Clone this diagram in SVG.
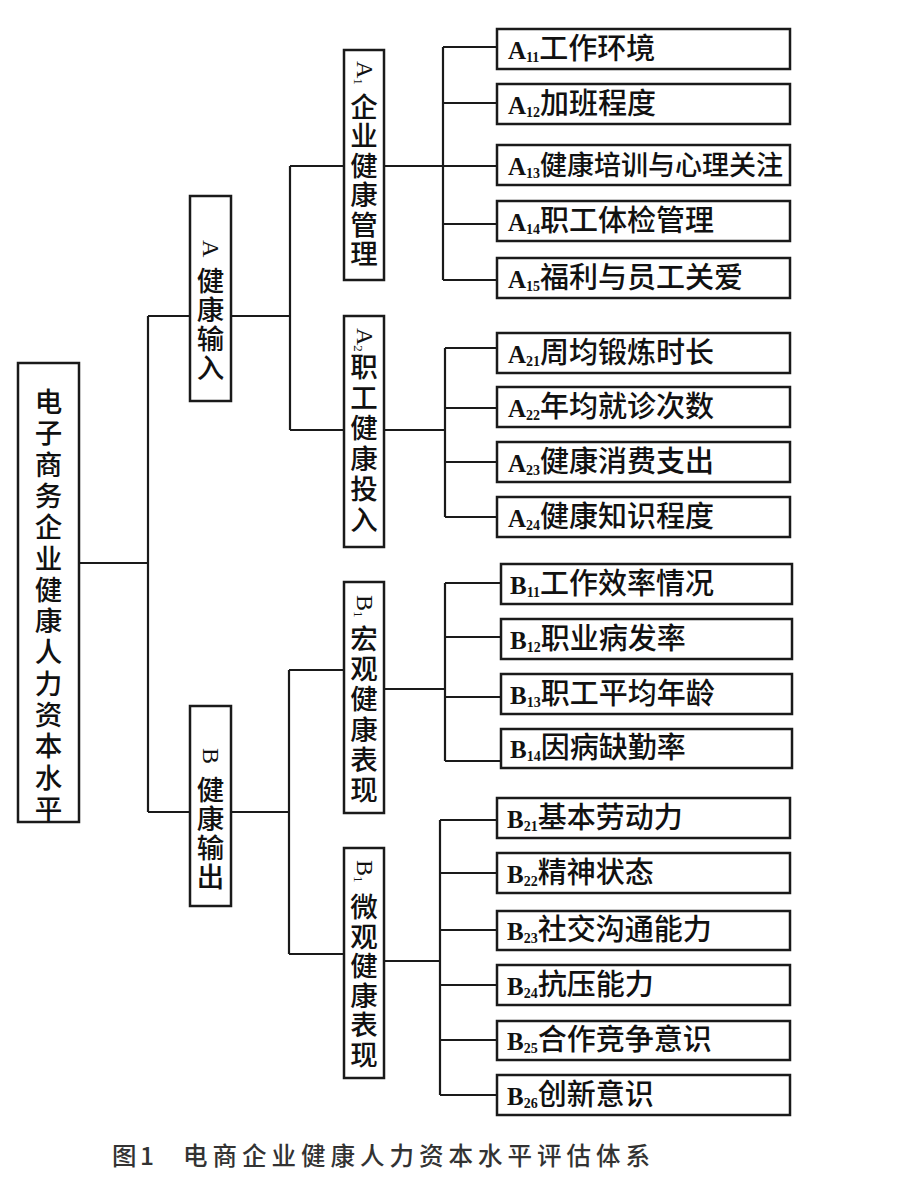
<svg xmlns="http://www.w3.org/2000/svg" width="901" height="1192" viewBox="0 0 901 1192">
<style>
.bx{fill:#fff;stroke:#1a1a1a;stroke-width:2.5}
.ln{stroke:#1a1a1a;stroke-width:2.2;fill:none}
.cj{font-family:"Noto Sans CJK SC","Noto Sans",sans-serif;fill:#111;font-weight:500}
.lt{font-family:"Liberation Serif",serif;fill:#111}
.leaf{font-size:29px}
.v{font-size:27.5px;text-anchor:middle}
.cap{font-family:"Noto Sans CJK SC","Noto Sans",sans-serif;fill:#333;font-size:24.5px;font-weight:500}
</style>
<rect width="901" height="1192" fill="#fff"/>
<g id="connectors" class="ln">
<path d="M79 563H148M148 316V812M148 316H190M148 812H190M231 316H290M231 812H289"/>
<path d="M290 166V430M290 166H344M290 430H344M289 670V954M289 670H344M289 954H344"/>
<path d="M384 166H497M443 47V280M443 47H497M443 103H497M443 224H497M443 280H497"/>
<path d="M384 430H445M445 348V517M445 348H497M445 408H497M445 462H497M445 517H497"/>
<path d="M384 689H445M445 583V761M445 583H501M445 637H501M445 697H501M445 761H501"/>
<path d="M384 961H440M440 820V1095M440 820H497M440 873H497M440 930H497M440 985H497M440 1040H497M440 1095H497"/>
</g>
<g id="root">
<rect class="bx" x="18" y="363" width="61" height="459"/>
<text class="cj v" font-size="28"><tspan x="48.5" y="412">电</tspan><tspan x="48.5" dy="31.3">子</tspan><tspan x="48.5" dy="31.3">商</tspan><tspan x="48.5" dy="31.3">务</tspan><tspan x="48.5" dy="31.3">企</tspan><tspan x="48.5" dy="31.3">业</tspan><tspan x="48.5" dy="31.3">健</tspan><tspan x="48.5" dy="31.3">康</tspan><tspan x="48.5" dy="31.3">人</tspan><tspan x="48.5" dy="31.3">力</tspan><tspan x="48.5" dy="31.3">资</tspan><tspan x="48.5" dy="31.3">本</tspan><tspan x="48.5" dy="31.3">水</tspan><tspan x="48.5" dy="31.3">平</tspan></text>
</g>
<g id="nodeA">
<rect class="bx" x="190" y="196" width="41" height="205"/>
<text class="lt" font-size="24" transform="translate(203,240) rotate(90)">A</text>
<text class="cj v"><tspan x="210.5" y="291">健</tspan><tspan x="210.5" dy="29">康</tspan><tspan x="210.5" dy="29">输</tspan><tspan x="210.5" dy="29">入</tspan></text>
</g>
<g id="nodeB">
<rect class="bx" x="190" y="706" width="41" height="200"/>
<text class="lt" font-size="24" transform="translate(203,748) rotate(90)">B</text>
<text class="cj v"><tspan x="210.5" y="800">健</tspan><tspan x="210.5" dy="29">康</tspan><tspan x="210.5" dy="29">输</tspan><tspan x="210.5" dy="29">出</tspan></text>
</g>
<g id="nodeA1">
<rect class="bx" x="344" y="50" width="40" height="230"/>
<text class="lt" font-size="24" transform="translate(357,61) rotate(90)">A<tspan font-size="13" dy="3">1</tspan></text>
<text class="cj v"><tspan x="364" y="117">企</tspan><tspan x="364" dy="29.4">业</tspan><tspan x="364" dy="29.4">健</tspan><tspan x="364" dy="29.4">康</tspan><tspan x="364" dy="29.4">管</tspan><tspan x="364" dy="29.4">理</tspan></text>
</g>
<g id="nodeA2">
<rect class="bx" x="344" y="316" width="40" height="231"/>
<text class="lt" font-size="24" transform="translate(357,328) rotate(90)">A<tspan font-size="13" dy="3">2</tspan></text>
<text class="cj v"><tspan x="364" y="377">职</tspan><tspan x="364" dy="30.6">工</tspan><tspan x="364" dy="30.6">健</tspan><tspan x="364" dy="30.6">康</tspan><tspan x="364" dy="30.6">投</tspan><tspan x="364" dy="30.6">入</tspan></text>
</g>
<g id="nodeB1">
<rect class="bx" x="344" y="582" width="40" height="231"/>
<text class="lt" font-size="24" transform="translate(357,595) rotate(90)">B<tspan font-size="13" dy="3">1</tspan></text>
<text class="cj v"><tspan x="364" y="649">宏</tspan><tspan x="364" dy="30.2">观</tspan><tspan x="364" dy="30.2">健</tspan><tspan x="364" dy="30.2">康</tspan><tspan x="364" dy="30.2">表</tspan><tspan x="364" dy="30.2">现</tspan></text>
</g>
<g id="nodeB2">
<rect class="bx" x="344" y="848" width="40" height="230"/>
<text class="lt" font-size="24" transform="translate(357,860) rotate(90)">B<tspan font-size="13" dy="3">1</tspan></text>
<text class="cj v"><tspan x="364" y="917">微</tspan><tspan x="364" dy="29.6">观</tspan><tspan x="364" dy="29.6">健</tspan><tspan x="364" dy="29.6">康</tspan><tspan x="364" dy="29.6">表</tspan><tspan x="364" dy="29.6">现</tspan></text>
</g>
<g id="A11"><rect class="bx" x="497" y="29" width="293" height="40"/><text x="508" y="59"><tspan class="lt" font-size="25" font-weight="bold">A</tspan><tspan class="lt" font-size="14" font-weight="bold" dy="3">11</tspan><tspan class="cj leaf" dy="-3">工作环境</tspan></text></g>
<g id="A12"><rect class="bx" x="497" y="84" width="293" height="40"/><text x="508" y="114"><tspan class="lt" font-size="25" font-weight="bold">A</tspan><tspan class="lt" font-size="14" font-weight="bold" dy="3">12</tspan><tspan class="cj leaf" dy="-3">加班程度</tspan></text></g>
<g id="A13"><rect class="bx" x="497" y="145" width="293" height="40"/><text x="508" y="175"><tspan class="lt" font-size="25" font-weight="bold">A</tspan><tspan class="lt" font-size="14" font-weight="bold" dy="3">13</tspan><tspan class="cj" font-size="27" dy="-3">健康培训与心理关注</tspan></text></g>
<g id="A14"><rect class="bx" x="497" y="201" width="293" height="40"/><text x="508" y="231"><tspan class="lt" font-size="25" font-weight="bold">A</tspan><tspan class="lt" font-size="14" font-weight="bold" dy="3">14</tspan><tspan class="cj leaf" dy="-3">职工体检管理</tspan></text></g>
<g id="A15"><rect class="bx" x="497" y="258" width="293" height="40"/><text x="508" y="288"><tspan class="lt" font-size="25" font-weight="bold">A</tspan><tspan class="lt" font-size="14" font-weight="bold" dy="3">15</tspan><tspan class="cj leaf" dy="-3">福利与员工关爱</tspan></text></g>
<g id="A21"><rect class="bx" x="497" y="333" width="293" height="40"/><text x="508" y="363"><tspan class="lt" font-size="25" font-weight="bold">A</tspan><tspan class="lt" font-size="14" font-weight="bold" dy="3">21</tspan><tspan class="cj leaf" dy="-3">周均锻炼时长</tspan></text></g>
<g id="A22"><rect class="bx" x="497" y="387" width="293" height="40"/><text x="508" y="417"><tspan class="lt" font-size="25" font-weight="bold">A</tspan><tspan class="lt" font-size="14" font-weight="bold" dy="3">22</tspan><tspan class="cj leaf" dy="-3">年均就诊次数</tspan></text></g>
<g id="A23"><rect class="bx" x="497" y="442" width="293" height="40"/><text x="508" y="472"><tspan class="lt" font-size="25" font-weight="bold">A</tspan><tspan class="lt" font-size="14" font-weight="bold" dy="3">23</tspan><tspan class="cj leaf" dy="-3">健康消费支出</tspan></text></g>
<g id="A24"><rect class="bx" x="497" y="497" width="293" height="40"/><text x="508" y="527"><tspan class="lt" font-size="25" font-weight="bold">A</tspan><tspan class="lt" font-size="14" font-weight="bold" dy="3">24</tspan><tspan class="cj leaf" dy="-3">健康知识程度</tspan></text></g>
<g id="B11"><rect class="bx" x="501" y="564" width="291" height="40"/><text x="510" y="594"><tspan class="lt" font-size="25" font-weight="bold">B</tspan><tspan class="lt" font-size="14" font-weight="bold" dy="3">11</tspan><tspan class="cj leaf" dy="-3">工作效率情况</tspan></text></g>
<g id="B12"><rect class="bx" x="501" y="619" width="291" height="40"/><text x="510" y="649"><tspan class="lt" font-size="25" font-weight="bold">B</tspan><tspan class="lt" font-size="14" font-weight="bold" dy="3">12</tspan><tspan class="cj leaf" dy="-3">职业病发率</tspan></text></g>
<g id="B13"><rect class="bx" x="501" y="674" width="291" height="40"/><text x="510" y="704"><tspan class="lt" font-size="25" font-weight="bold">B</tspan><tspan class="lt" font-size="14" font-weight="bold" dy="3">13</tspan><tspan class="cj leaf" dy="-3">职工平均年龄</tspan></text></g>
<g id="B14"><rect class="bx" x="501" y="729" width="291" height="39"/><text x="510" y="758"><tspan class="lt" font-size="25" font-weight="bold">B</tspan><tspan class="lt" font-size="14" font-weight="bold" dy="3">14</tspan><tspan class="cj leaf" dy="-3">因病缺勤率</tspan></text></g>
<g id="B21"><rect class="bx" x="497" y="798" width="293" height="40"/><text x="507" y="828"><tspan class="lt" font-size="25" font-weight="bold">B</tspan><tspan class="lt" font-size="14" font-weight="bold" dy="3">21</tspan><tspan class="cj leaf" dy="-3">基本劳动力</tspan></text></g>
<g id="B22"><rect class="bx" x="497" y="853" width="293" height="40"/><text x="507" y="883"><tspan class="lt" font-size="25" font-weight="bold">B</tspan><tspan class="lt" font-size="14" font-weight="bold" dy="3">22</tspan><tspan class="cj leaf" dy="-3">精神状态</tspan></text></g>
<g id="B23"><rect class="bx" x="497" y="911" width="293" height="39"/><text x="507" y="940"><tspan class="lt" font-size="25" font-weight="bold">B</tspan><tspan class="lt" font-size="14" font-weight="bold" dy="3">23</tspan><tspan class="cj leaf" dy="-3">社交沟通能力</tspan></text></g>
<g id="B24"><rect class="bx" x="497" y="965" width="293" height="40"/><text x="507" y="995"><tspan class="lt" font-size="25" font-weight="bold">B</tspan><tspan class="lt" font-size="14" font-weight="bold" dy="3">24</tspan><tspan class="cj leaf" dy="-3">抗压能力</tspan></text></g>
<g id="B25"><rect class="bx" x="497" y="1021" width="293" height="39"/><text x="507" y="1050"><tspan class="lt" font-size="25" font-weight="bold">B</tspan><tspan class="lt" font-size="14" font-weight="bold" dy="3">25</tspan><tspan class="cj leaf" dy="-3">合作竞争意识</tspan></text></g>
<g id="B26"><rect class="bx" x="497" y="1075" width="293" height="40"/><text x="507" y="1105"><tspan class="lt" font-size="25" font-weight="bold">B</tspan><tspan class="lt" font-size="14" font-weight="bold" dy="3">26</tspan><tspan class="cj leaf" dy="-3">创新意识</tspan></text></g>
<g id="caption">
<text class="cap" x="112" y="1165">图</text>
<text class="cap" x="140" y="1165">1</text>
<text class="cap" x="183" y="1165" letter-spacing="5">电商企业健康人力资本水平评估体系</text>
</g>
</svg>
